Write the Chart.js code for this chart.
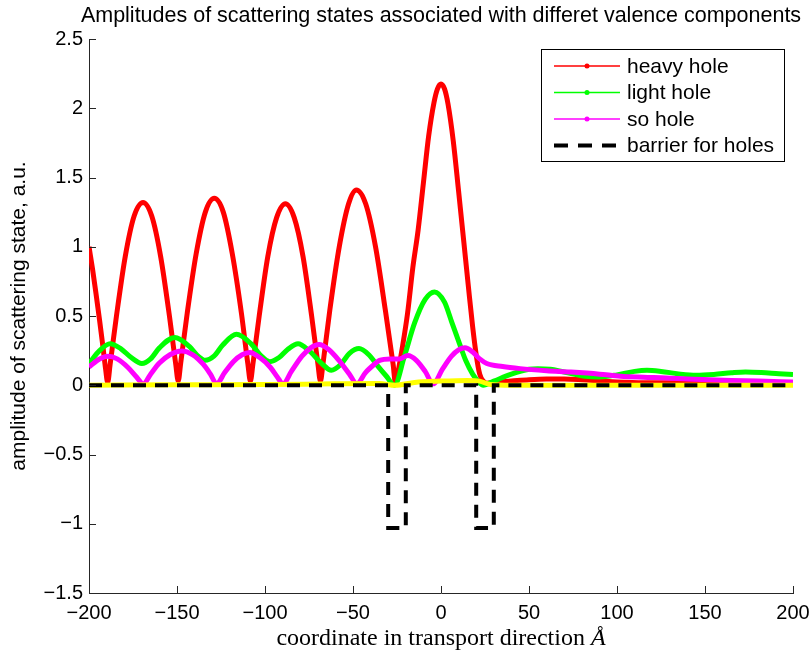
<!DOCTYPE html>
<html>
<head>
<meta charset="utf-8">
<script src="https://cdn.jsdelivr.net/npm/chart.js@4"></script>
<style>
  html, body { margin: 0; padding: 0; background: #fff; }
  #wrap { position: relative; width: 811px; height: 655px; }
</style>
</head>
<body>
<div id="wrap"><canvas id="c"></canvas></div>
<script>
// Axis ticks
const xTicks = [-200, -150, -100, -50, 0, 50, 100, 150, 200];
const yTicks = [-1.5, -1, -0.5, 0, 0.5, 1, 1.5, 2, 2.5];

// Series labels
const seriesNames = ['heavy hole', 'light hole', 'so hole', 'barrier for holes'];

// Heavy-hole amplitude
const heavyX = [-200, -198, -196, -194, -192, -190.5, -189.4,
  -188, -184.4, -179.4, -174.4, -169.3, -164.3, -159.3, -154.3, -150.7, -149.3,
  -147.9, -144.2, -139.1, -133.9, -128.8, -123.7, -118.6, -113.4, -109.7, -108.3,
  -106.9, -103.3, -98.4, -93.4, -88.4, -83.4, -78.4, -73.5, -69.9, -68.5,
  -67.1, -63.2, -57.8, -52.5, -48.1, -42.8, -37.2, -31.6, -27.2, -25.8,
  -24.5, -22, -19, -16, -13, -10, -7, -4, -2, 0, 2, 4, 7, 10, 13, 15.5, 18, 20, 22, 24, 26,
  30, 40, 50, 60, 70, 80, 90, 100, 115, 130, 150, 170, 185, 200];
const heavyY = [1.00, 0.84, 0.66, 0.47, 0.27, 0.11, 0.02,
  0.15, 0.50, 0.93, 1.22, 1.32, 1.22, 0.93, 0.50, 0.15, 0.03,
  0.16, 0.52, 0.95, 1.25, 1.35, 1.25, 0.95, 0.52, 0.15, 0.03,
  0.15, 0.50, 0.93, 1.21, 1.31, 1.21, 0.93, 0.50, 0.15, 0.03,
  0.15, 0.54, 1.00, 1.31, 1.41, 1.31, 1.00, 0.54, 0.15, 0.01,
  0.09, 0.27, 0.52, 0.85, 1.12, 1.46, 1.80, 2.04, 2.14, 2.175, 2.14, 2.03, 1.76, 1.40, 1.03, 0.72, 0.42, 0.22, 0.08, 0.03, 0.015,
  0.02, 0.03, 0.04, 0.045, 0.045, 0.04, 0.032, 0.024, 0.018, 0.018, 0.02, 0.02, 0.02, 0.02];

// Light-hole amplitude
const lightX = [-200, -194, -188, -182, -176, -170, -165, -160, -151.2, -143, -138, -134,
  -129, -124, -116.2, -108, -102, -97.3, -92, -87, -81.2, -75, -68, -62.3, -57, -52, -46.6,
  -41, -36, -31, -26.4, -21, -15, -9, -3.7, 2, 6, 10.5, 14, 18, 21, 24,
  30, 40, 50, 55, 62, 72, 82, 90, 100, 110, 117, 125, 135, 145, 155, 165, 173, 182, 192, 200];
const lightY = [0.157, 0.25, 0.30, 0.265, 0.20, 0.157, 0.19, 0.27, 0.345, 0.28, 0.21, 0.18,
  0.21, 0.29, 0.368, 0.30, 0.21, 0.17, 0.20, 0.26, 0.30, 0.25, 0.16, 0.108, 0.15, 0.23, 0.265,
  0.22, 0.14, 0.065, 0.0, 0.20, 0.45, 0.62, 0.674, 0.60, 0.46, 0.30, 0.18, 0.08, 0.03, 0.0,
  0.03, 0.08, 0.115, 0.12, 0.115, 0.09, 0.065, 0.06, 0.075, 0.10, 0.108, 0.10, 0.082, 0.072, 0.078, 0.09, 0.096, 0.092, 0.083, 0.077];

// Split-off hole amplitude
const soX = [-200, -194, -189, -184, -178, -173, -169.2, -165, -160, -154, -147.4, -141, -135, -131, -127.5,
  -123, -118, -113, -108.7, -103, -97, -93, -89.8, -85, -79, -74, -69.3, -64, -58, -52, -47.8,
  -43, -38, -34.9, -29, -23.5, -18.8, -14, -9, -4.5, 1, 6, 10, 13.6, 18, 22, 26,
  35, 45, 60, 73.8, 90, 102, 115, 128, 140, 152, 165, 180, 200];
const soY = [0.132, 0.19, 0.21, 0.19, 0.13, 0.06, 0.01, 0.08, 0.16, 0.22, 0.248, 0.22, 0.15, 0.08, 0.01,
  0.09, 0.17, 0.22, 0.236, 0.20, 0.13, 0.06, 0.01, 0.10, 0.21, 0.27, 0.294, 0.26, 0.18, 0.08, 0.01,
  0.09, 0.15, 0.18, 0.19, 0.19, 0.215, 0.18, 0.10, 0.01, 0.12, 0.21, 0.255, 0.27, 0.24, 0.19, 0.157,
  0.135, 0.12, 0.105, 0.095, 0.08, 0.065, 0.058, 0.053, 0.045, 0.04, 0.035, 0.03, 0.024];

// Additional small component (no legend entry)
const extraX = [-200, -150, -100, -60, -35, -26, -15, 0, 15, 22, 28, 40, 100, 200];
const extraY = [0.0, 0.003, 0.005, 0.01, 0.012, 0.0, 0.02, 0.03, 0.035, 0.03, 0.005, 0.0, 0.0, 0.0];

// Potential barrier profile
const barrierX = [-200, -30, -30, -20, -20, 20, 20, 30, 30, 200];
const barrierY = [0, 0, -1.03, -1.03, 0, 0, -1.03, -1.03, 0, 0];

const pts = (xs, ys) => xs.map((x, i) => ({ x: x, y: ys[i] }));
const minus = v => String(v).replace('-', '\u2212');

const colors = ['#ff0000', '#00ff00', '#ff00ff', '#000000'];
const SANS = '"Liberation Sans", Arial, Helvetica, sans-serif';
const SERIF = '"Liberation Serif", "Times New Roman", serif';

const decor = {
  id: 'decor',
  afterDraw(chart) {
    const { ctx, chartArea: a, scales: { x, y } } = chart;
    ctx.save();

    // inward tick marks
    ctx.strokeStyle = '#262626';
    ctx.lineWidth = 1;
    ctx.beginPath();
    xTicks.forEach(v => {
      const px = Math.round(x.getPixelForValue(v)) + 0.5;
      ctx.moveTo(px, a.bottom);
      ctx.lineTo(px, a.bottom - 7);
    });
    yTicks.forEach(v => {
      const py = Math.round(y.getPixelForValue(v)) + 0.5;
      ctx.moveTo(a.left, py);
      ctx.lineTo(a.left + 7, py);
    });
    ctx.stroke();

    // title
    ctx.fillStyle = '#000';
    ctx.font = '21.5px ' + SANS;
    ctx.textAlign = 'center';
    ctx.textBaseline = 'alphabetic';
    ctx.fillText('Amplitudes of scattering states associated with differet valence components', (a.left + a.right) / 2, 22);

    // y axis title
    ctx.save();
    ctx.translate(25, (a.top + a.bottom) / 2);
    ctx.rotate(-Math.PI / 2);
    ctx.font = '21px ' + SANS;
    ctx.fillText('amplitude of scattering state, a.u.', 0, 0);
    ctx.restore();

    // x axis title (serif, with italic angstrom)
    const t1 = 'coordinate in transport direction ';
    const t2 = 'Å';
    ctx.font = '24px ' + SERIF;
    const w1 = ctx.measureText(t1).width;
    ctx.font = 'italic 24px ' + SERIF;
    const w2 = ctx.measureText(t2).width;
    const x0 = (a.left + a.right) / 2 - (w1 + w2) / 2;
    ctx.textAlign = 'left';
    ctx.font = '24px ' + SERIF;
    ctx.fillText(t1, x0, 645);
    ctx.font = 'italic 24px ' + SERIF;
    ctx.fillText(t2, x0 + w1, 645);

    // legend
    const bx = 541.5, by = 49.5, bw = 243, bh = 112;
    ctx.fillStyle = '#fff';
    ctx.fillRect(bx, by, bw, bh);
    ctx.strokeStyle = '#000';
    ctx.lineWidth = 1;
    ctx.strokeRect(bx, by, bw, bh);
    const rows = [66, 92.5, 119, 145.5];
    ctx.font = '21px ' + SANS;
    ctx.textBaseline = 'middle';
    seriesNames.forEach((name, i) => {
      const ry = rows[i];
      ctx.strokeStyle = colors[i];
      if (i < 3) {
        ctx.lineWidth = 1.5;
        ctx.setLineDash([]);
        ctx.beginPath();
        ctx.moveTo(554, ry);
        ctx.lineTo(620, ry);
        ctx.stroke();
        ctx.fillStyle = colors[i];
        ctx.beginPath();
        ctx.arc(587, ry, 2.5, 0, Math.PI * 2);
        ctx.fill();
      } else {
        ctx.lineWidth = 4;
        ctx.setLineDash([14, 10]);
        ctx.beginPath();
        ctx.moveTo(554, ry);
        ctx.lineTo(620, ry);
        ctx.stroke();
        ctx.setLineDash([]);
      }
      ctx.fillStyle = '#000';
      ctx.fillText(name, 627, ry + 1);
    });
    ctx.restore();
  }
};

const curve = (label, xs, ys, color, order, width) => ({
  label: label,
  data: pts(xs, ys),
  borderColor: color,
  backgroundColor: color,
  borderWidth: width,
  pointRadius: 0,
  fill: false,
  cubicInterpolationMode: 'monotone',
  order: order
});

new Chart(document.getElementById('c'), {
  type: 'line',
  data: {
    datasets: [
      curve(seriesNames[0], heavyX, heavyY, colors[0], 4, 5),
      curve(seriesNames[1], lightX, lightY, colors[1], 3, 5),
      curve(seriesNames[2], soX, soY, colors[2], 2, 5),
      curve('', extraX, extraY, '#ffff00', 1, 5),
      {
        label: seriesNames[3],
        data: pts(barrierX, barrierY),
        borderColor: '#000',
        borderWidth: 4,
        borderDash: [13, 9],
        borderCapStyle: 'butt',
        borderJoinStyle: 'miter',
        pointRadius: 0,
        fill: false,
        tension: 0,
        order: 0
      }
    ]
  },
  options: {
    responsive: true,
    maintainAspectRatio: false,
    animation: false,
    events: [],
    layout: { padding: { left: 0, right: 18, top: 39, bottom: 0 } },
    plugins: {
      legend: { display: false },
      title: { display: false },
      tooltip: { enabled: false }
    },
    scales: {
      x: {
        type: 'linear',
        min: -200,
        max: 200,
        afterBuildTicks: s => { s.ticks = xTicks.map(v => ({ value: v })); },
        grid: { display: false, drawTicks: false },
        border: { display: true, color: '#262626', width: 1 },
        ticks: {
          padding: 8,
          color: '#000',
          maxRotation: 0,
          autoSkip: false,
          font: { family: SANS, size: 20 },
          callback: v => minus(v)
        },
        afterFit: s => { s.height = 62; s.paddingLeft = 0; s.paddingRight = 0; }
      },
      y: {
        type: 'linear',
        min: -1.5,
        max: 2.5,
        afterBuildTicks: s => { s.ticks = yTicks.map(v => ({ value: v })); },
        grid: { display: false, drawTicks: false },
        border: { display: true, color: '#262626', width: 1 },
        ticks: {
          padding: 6,
          color: '#000',
          autoSkip: false,
          font: { family: SANS, size: 20 },
          callback: v => minus(v)
        },
        afterFit: s => { s.width = 89; s.paddingTop = 0; s.paddingBottom = 0; }
      }
    }
  },
  plugins: [decor]
});
</script>
</body>
</html>
